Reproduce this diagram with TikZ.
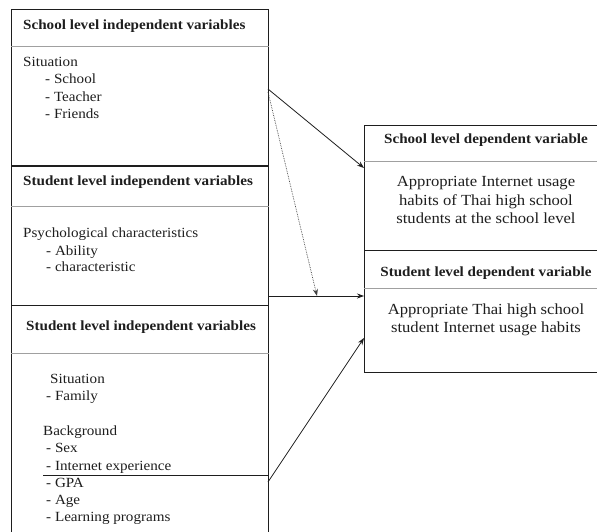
\documentclass[tikz,border=0pt]{standalone}
\usepackage{fontspec}
\setmainfont{Liberation Serif}[FakeStretch=1.08]
\usetikzlibrary{arrows.meta}
\definecolor{ink}{HTML}{1E1E1E}
\definecolor{sepgrey}{HTML}{A0A0A0}
\begin{document}
\begin{tikzpicture}[x=1pt,y=-1pt,
  boxframe/.style={draw=ink,line width=0.9pt,rectangle,inner sep=0pt,anchor=north west},
  sepline/.style={draw=sepgrey,line width=0.9pt},
  head/.style={font=\fontsize{14}{16}\selectfont\bfseries,text=ink,inner sep=0pt},
  body/.style={font=\fontsize{14}{16}\selectfont,text=ink,inner sep=0pt,anchor=mid west},
  rbody/.style={font=\fontsize{15.4}{18.5}\selectfont,text=ink,inner sep=0pt,align=center},
  conn/.style={draw=ink,line width=0.8pt,-{Stealth[length=7pt,width=5pt]}},
  dotconn/.style={draw=ink!85,line width=0.7pt,densely dotted,-{Stealth[length=7pt,width=5pt]}}
]
\useasboundingbox (0,0) rectangle (597,532);
\clip (0,0) rectangle (597,532);
\fill[white] (0,0) rectangle (597,532);

% left boxes
\node[boxframe,minimum width=257pt,minimum height=156pt] (b1) at (11,9) {};
\node[boxframe,minimum width=257pt,minimum height=140pt] (b2) at (11,165) {};
\node[boxframe,minimum width=257pt,minimum height=240pt] (b3) at (11,305) {};
\draw[draw=ink,line width=1.6pt] (b1.south west) -- (b1.south east);

% right boxes
\node[boxframe,minimum width=250pt,minimum height=125pt] (r1) at (364,125) {};
\node[boxframe,minimum width=250pt,minimum height=122pt] (r2) at (364,250) {};

% header separators
\draw[sepline] ([yshift=-37pt]b1.north west) -- ([yshift=-37pt]b1.north east);
\draw[sepline] ([yshift=-41pt]b2.north west) -- ([yshift=-41pt]b2.north east);
\draw[sepline] ([yshift=-48pt]b3.north west) -- ([yshift=-48pt]b3.north east);
\draw[sepline] ([yshift=-36pt]r1.north west) -- ([yshift=-36pt]r1.north east);
\draw[sepline] ([yshift=-38pt]r2.north west) -- ([yshift=-38pt]r2.north east);

% box 1 text
\node[head,anchor=mid west] (h1) at (23,27) {School level independent variables};
\node[body] (t11) at (23,64) {Situation};
\node[body] (t12) at (45,81) {- School};
\node[body] (t13) at (45,99) {- Teacher};
\node[body] (t14) at (45,116) {- Friends};

% box 2 text
\node[head,anchor=mid west] (h2) at (23,183) {Student level independent variables};
\node[body] (t21) at (23,235) {Psychological characteristics};
\node[body] (t22) at (46,253) {- Ability};
\node[body] (t23) at (46,269) {- characteristic};

% box 3 text
\node[head,anchor=mid west] (h3) at (26,328) {Student level independent variables};
\node[body] (t31) at (50,381) {Situation};
\node[body] (t32) at (46,398) {- Family};
\node[body] (t33) at (43,433) {Background};
\node[body] (t34) at (46,450) {- Sex};
\node[body] (t35) at (46,468) {- Internet experience};
\node[body] (t36) at (46,485) {- GPA};
\node[body] (t37) at (46,502) {- Age};
\node[body] (t38) at (46,519) {- Learning programs};

% right box texts
\node[head] (rh1) at (486,140) {School level dependent variable};
\node[rbody] (rt1) at (486,200) {Appropriate Internet usage\\habits of Thai high school\\students at the school level};
\node[head] (rh2) at (486,273) {Student level dependent variable};
\node[rbody] (rt2) at (486,320) {Appropriate Thai high school\\student Internet usage habits};

% connector end points
\coordinate (s1) at (268,89);
\coordinate (s2) at (268,92);
\coordinate (s3) at (268,296);
\coordinate (s4) at (268,482);
\coordinate (e1) at (364,168);
\coordinate (e2) at (317,296);
\coordinate (e3) at (364,296);
\coordinate (e4) at (364,338);
\coordinate (m1) at (43,475);

\draw[conn] (s1) -- (e1);
\draw[dotconn] (s2) -- (e2);
\draw[conn] (s3) -- (e3);
\draw[conn] (s4) -- (e4);
\draw[draw=ink,line width=0.8pt] (m1) -- (m1 -| b3.east);
\end{tikzpicture}
\end{document}
